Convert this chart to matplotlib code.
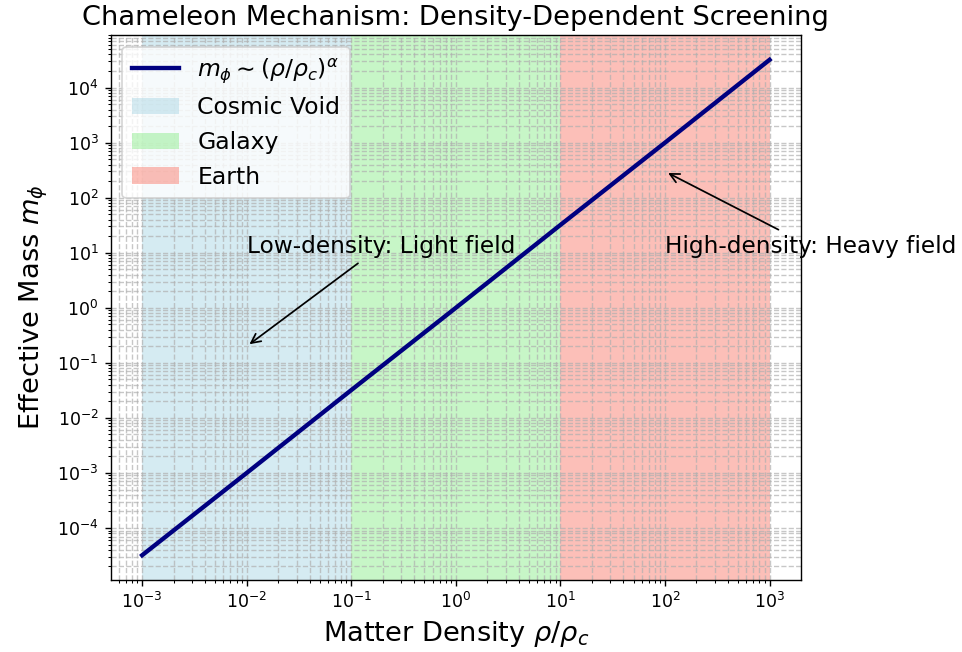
import numpy as np
import matplotlib
matplotlib.use("Agg")
import matplotlib.pyplot as plt
from matplotlib.patches import Patch

# density (rho/rho_c) and effective mass
rho = [1e-3, 1e-2, 1e-1, 1e0, 1e1, 1e2, 1e3]
m_phi = [3.2e-5, 1e-3, 3.2e-2, 1e0, 3.2e1, 1e3, 3.2e4]

# shaded density regions
region_names = ["Cosmic Void", "Galaxy", "Earth"]
region_lo = [1e-3, 1e-1, 1e1]
region_hi = [1e-1, 1e1, 1e3]
region_colors = ["lightblue", "lightgreen", "salmon"]

fig = plt.figure(figsize=(962 / 125, 652 / 125), dpi=125)
ax = fig.add_axes([0.1151, 0.1104, 0.7175, 0.8359])

line, = ax.plot(rho, m_phi, color="navy", linewidth=2.5,
                label=r"$m_\phi \sim (\rho/\rho_c)^\alpha$")

handles = [line]
for name, lo, hi, c in zip(region_names, region_lo, region_hi, region_colors):
    ax.axvspan(lo, hi, color=c, alpha=0.5, linewidth=0)
    handles.append(Patch(facecolor=c, alpha=0.5, label=name))

ax.set_xscale("log")
ax.set_yscale("log")
ax.grid(True, which="both", linestyle="--", linewidth=0.8, alpha=0.7)

ax.annotate("Low-density: Light field", xy=(1e-2, 2e-1), xytext=(1e-2, 1e1),
            fontsize=13.4, arrowprops=dict(arrowstyle="->", color="black"))
ax.annotate("High-density: Heavy field", xy=(1e2, 3e2), xytext=(1e2, 1e1),
            fontsize=13.4, arrowprops=dict(arrowstyle="->", color="black"))

ax.set_xlabel(r"Matter Density $\rho/\rho_c$", fontsize=15.7)
ax.set_ylabel(r"Effective Mass $m_\phi$", fontsize=15.7)
ax.set_title("Chameleon Mechanism: Density-Dependent Screening", fontsize=15.7)
ax.legend(handles=handles, loc="upper left", fontsize=13.5)

fig.savefig("out.png", dpi=125)
